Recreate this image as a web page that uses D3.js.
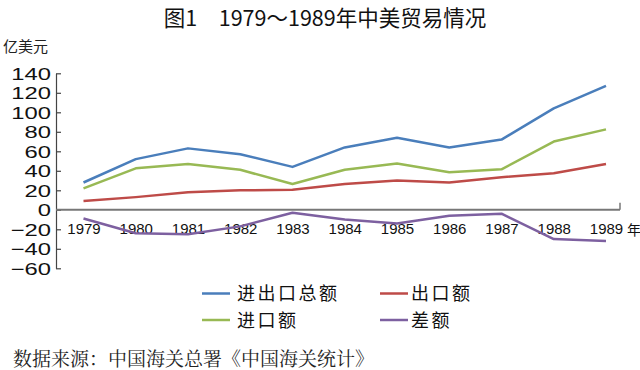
<!DOCTYPE html>
<html><head><meta charset="utf-8">
<script src="https://cdn.jsdelivr.net/npm/d3@7"></script>
<style>
html,body{margin:0;padding:0;background:#fff;}
svg{display:block;}
</style></head>
<body>
<svg id="chart" width="640" height="370"></svg>
<script>
const years = ["1979","1980","1981","1982","1983","1984","1985","1986","1987","1988","1989"];
const totalTrade = [28, 52, 63, 57, 44, 64, 74, 64, 72, 104, 127];
const exportsVal = [9, 13, 18, 20, 20.5, 26.5, 30, 28, 33.5, 37.5, 47];
const importsVal = [22, 42.5, 47, 41, 26.5, 41, 47.5, 38.5, 41.5, 70, 82.5];
const balance = [-9, -24, -25, -17, -3, -10, -14, -6, -4, -30, -32];
const yTicks = [140, 120, 100, 80, 60, 40, 20, 0, -20, -40, -60];
const seriesNames = ["进出口总额", "出口额", "进口额", "差额"];
const seriesColors = ["#4A7EBB", "#BE4B48", "#98B954", "#7D60A0"];
const titleText = "图1　1979～1989年中美贸易情况";
const unitText = "亿美元";
const xUnitText = "年";
const sourceText = "数据来源：中国海关总署《中国海关统计》";

const svg = d3.select("#chart");
const x = d3.scalePoint().domain(years).range([83.5, 606]);
const y = d3.scaleLinear().domain([-60, 140]).range([268.3, 73.3]);
const axisX0 = 56;

// Title
svg.append("text").attr("x", 325).attr("y", 25.5).attr("text-anchor", "middle")
  .attr("font-family", "'Noto Sans CJK SC', sans-serif").attr("font-size", 21.5)
  .attr("fill", "#111").text(titleText);

// unit label
svg.append("text").attr("x", 3).attr("y", 52)
  .attr("font-family", "'Noto Sans CJK SC', sans-serif").attr("font-size", 15)
  .attr("fill", "#222").text(unitText);

// Y axis
const yAxis = d3.axisLeft(y).tickValues(yTicks).tickSizeInner(-5).tickSizeOuter(0).tickPadding(5)
  .tickFormat(d => d < 0 ? "−" + Math.abs(d) : d);
const gy = svg.append("g").attr("transform", `translate(${axisX0},0)`).call(yAxis);
gy.select(".domain").attr("stroke", "#444").attr("stroke-width", 1.2);
gy.selectAll(".tick line").attr("stroke", "#444").attr("stroke-width", 1.2);
gy.selectAll(".tick text")
  .attr("font-family", "'Liberation Sans', Arial, sans-serif").attr("font-size", 17)
  .attr("fill", "#111")
  .attr("x", 0).attr("dy", "0.36em")
  .attr("transform", "translate(-5,0) scale(1.4,1)");

// X axis line (zero line)
svg.append("line").attr("x1", axisX0).attr("x2", 620).attr("y1", y(0)).attr("y2", y(0))
  .attr("stroke", "#777").attr("stroke-width", 2);
svg.append("line").attr("x1", 620).attr("x2", 620).attr("y1", y(0) - 7).attr("y2", y(0))
  .attr("stroke", "#777").attr("stroke-width", 1.5);

// X labels
const xAxis = d3.axisBottom(x).tickSize(0).tickPadding(0);
const gx = svg.append("g").attr("transform", `translate(0,${y(0)})`).call(xAxis);
gx.select(".domain").remove();
gx.selectAll(".tick text")
  .attr("font-family", "'Liberation Sans', Arial, sans-serif").attr("font-size", 15)
  .attr("fill", "#111").attr("y", 24.5).attr("dy", 0);

svg.append("text").attr("x", 627).attr("y", 234.5)
  .attr("font-family", "'Noto Sans CJK SC', sans-serif").attr("font-size", 14)
  .attr("fill", "#111").text(xUnitText);

// Lines
const seriesData = [totalTrade, exportsVal, importsVal, balance];
const line = d3.line().x((d, i) => x(years[i])).y(d => y(d));
seriesData.forEach((s, k) => {
  svg.append("path").datum(s).attr("d", line)
    .attr("fill", "none").attr("stroke", seriesColors[k]).attr("stroke-width", 2.5)
    .attr("stroke-linejoin", "round");
});

// Legend
const legPos = [[202, 293.5], [380, 293.5], [202, 320], [380, 320]];
seriesNames.forEach((n, k) => {
  const [lx, ly] = legPos[k];
  svg.append("line").attr("x1", lx).attr("x2", lx + 28).attr("y1", ly).attr("y2", ly)
    .attr("stroke", seriesColors[k]).attr("stroke-width", 2.5);
  svg.append("text").attr("x", lx + (k % 2 === 0 ? 35 : 31)).attr("y", ly + 6.5)
    .attr("font-family", "'Noto Sans CJK SC', sans-serif").attr("font-size", 18)
    .attr("letter-spacing", 2.5)
    .attr("fill", "#111").text(n);
});

// Source
svg.append("text").attr("x", 13).attr("y", 366)
  .attr("font-family", "'Noto Serif CJK SC', 'Noto Sans CJK SC', serif").attr("font-size", 19)
  .attr("fill", "#222").text(sourceText);
</script>
</body></html>
